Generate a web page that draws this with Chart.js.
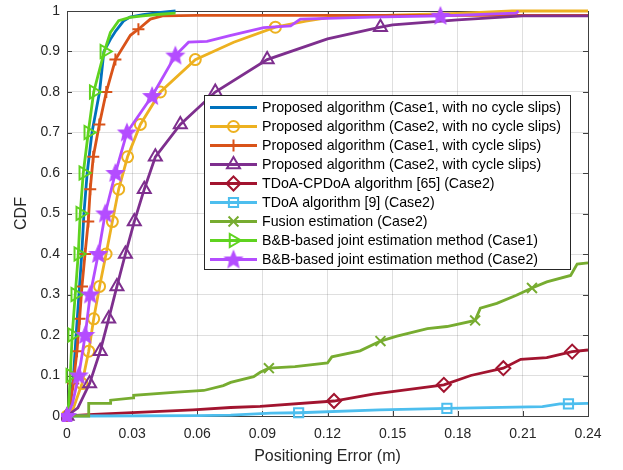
<!DOCTYPE html>
<html>
<head>
<meta charset="utf-8">
<script src="https://cdn.jsdelivr.net/npm/chart.js@4/dist/chart.umd.min.js"></script>
<style>
html,body{margin:0;padding:0;background:#fff;}
#wrap{width:623px;height:470px;position:relative;}
</style>
</head>
<body>
<div id="wrap"><canvas id="c" width="623" height="470"></canvas></div>
<script>
// ---------- data ----------
const xTickValues = [0, 0.03, 0.06, 0.09, 0.12, 0.15, 0.18, 0.21, 0.24];
const xTickLabels = ['0', '0.03', '0.06', '0.09', '0.12', '0.15', '0.18', '0.21', '0.24'];
const yTickValues = [0, 0.1, 0.2, 0.3, 0.4, 0.5, 0.6, 0.7, 0.8, 0.9, 1];
const yTickLabels = ['0', '0.1', '0.2', '0.3', '0.4', '0.5', '0.6', '0.7', '0.8', '0.9', '1'];

const seriesNames = [
  'Proposed algorithm (Case1, with no cycle slips)',
  'Proposed algorithm (Case2, with no cycle slips)',
  'Proposed algorithm (Case1, with cycle slips)',
  'Proposed algorithm (Case2, with cycle slips)',
  'TDoA-CPDoA algorithm [65] (Case2)',
  'TDoA algorithm [9] (Case2)',
  'Fusion estimation (Case2)',
  'B&B-based joint estimation method (Case1)',
  'B&B-based joint estimation method (Case2)'
];

// Proposed Case1, no slips
const p1X = [0, 0.0015, 0.0030, 0.0042, 0.0055, 0.0068, 0.0078, 0.0093, 0.0115, 0.0150, 0.0170, 0.0200, 0.0225, 0.0260, 0.0290, 0.0350, 0.0420, 0.0500];
const p1Y = [0, 0.03, 0.1, 0.2, 0.3, 0.4, 0.5, 0.6, 0.7, 0.8, 0.9, 0.93, 0.951, 0.975, 0.985, 0.991, 0.996, 1.0];
const p1Marks = [];

// Proposed Case2, no slips
const p2X = [0, 0.0030, 0.0069, 0.0100, 0.0123, 0.0150, 0.0180, 0.0209, 0.0238, 0.0279, 0.0338, 0.0430, 0.0591, 0.0768, 0.0960, 0.1100, 0.1210, 0.1500, 0.1800, 0.2050, 0.2400];
const p2Y = [0, 0.02, 0.08, 0.16, 0.24, 0.32, 0.40, 0.48, 0.56, 0.64, 0.72, 0.80, 0.88, 0.923, 0.96, 0.975, 0.984, 0.99, 0.994, 1.0, 1.0];
const p2Marks = [0, 2, 3, 4, 5, 6, 7, 8, 9, 10, 11, 12, 14];

// Proposed Case1, with slips
const p3X = [0, 0.0015, 0.0029, 0.0046, 0.0058, 0.0069, 0.0083, 0.0098, 0.0107, 0.0121, 0.0149, 0.0181, 0.0223, 0.0292, 0.0329, 0.0384, 0.0440, 0.0600, 0.1000, 0.1500, 0.2000, 0.2400];
const p3Y = [0, 0.03, 0.08, 0.16, 0.24, 0.32, 0.40, 0.48, 0.56, 0.64, 0.72, 0.80, 0.88, 0.94, 0.955, 0.98, 0.988, 0.989, 0.989, 0.989, 0.989, 0.989];
const p3Marks = [0, 2, 3, 4, 5, 6, 7, 8, 9, 10, 11, 12, 14];

// Proposed Case2, with slips
const p4X = [0, 0.0050, 0.0104, 0.0153, 0.0192, 0.0230, 0.0269, 0.0310, 0.0356, 0.0407, 0.0522, 0.0683, 0.0922, 0.1200, 0.1444, 0.1500, 0.1800, 0.2100, 0.2400];
const p4Y = [0, 0.02, 0.08, 0.16, 0.24, 0.32, 0.40, 0.48, 0.56, 0.64, 0.72, 0.80, 0.88, 0.931, 0.96, 0.966, 0.978, 0.988, 0.988];
const p4Marks = [0, 2, 3, 4, 5, 6, 7, 8, 9, 10, 11, 12, 14];

// TDoA-CPDoA
const p5X = [0, 0.0123, 0.0580, 0.0754, 0.0890, 0.1230, 0.1410, 0.1736, 0.1860, 0.2010, 0.2090, 0.2210, 0.2327, 0.2400];
const p5Y = [0, 0.004, 0.015, 0.021, 0.024, 0.037, 0.054, 0.077, 0.100, 0.118, 0.140, 0.144, 0.159, 0.163];
const p5Marks = [5, 7, 9, 12];

// TDoA
const p6X = [0, 0.0100, 0.0600, 0.0754, 0.0940, 0.1067, 0.1440, 0.1750, 0.2190, 0.2270, 0.2310, 0.2400];
const p6Y = [0, 0, 0.001, 0.002, 0.007, 0.008, 0.015, 0.019, 0.023, 0.030, 0.030, 0.031];
const p6Marks = [5, 7, 10];

// Fusion estimation
const p7X = [0, 0.0099, 0.0100, 0.0200, 0.0201, 0.0306, 0.0307, 0.0507, 0.0630, 0.0720, 0.0754, 0.0860, 0.0890, 0.0930, 0.1050, 0.1200, 0.1220, 0.1350, 0.1444, 0.1520, 0.1660, 0.1750, 0.1880, 0.1904, 0.1980, 0.2070, 0.2142, 0.2210, 0.2320, 0.2350, 0.2400];
const p7Y = [0, 0, 0.031, 0.031, 0.039, 0.045, 0.051, 0.059, 0.063, 0.075, 0.083, 0.097, 0.108, 0.118, 0.122, 0.131, 0.146, 0.161, 0.185, 0.197, 0.216, 0.221, 0.236, 0.266, 0.278, 0.298, 0.316, 0.331, 0.347, 0.375, 0.378];
const p7Marks = [13, 18, 22, 26];

// B&B Case1
const p8X = [0, 0.0008, 0.0015, 0.0024, 0.0038, 0.0052, 0.0061, 0.0075, 0.0098, 0.0123, 0.0172, 0.0200, 0.0238, 0.0290, 0.0350, 0.0430, 0.0500];
const p8Y = [0, 0.03, 0.1, 0.2, 0.3, 0.4, 0.5, 0.6, 0.7, 0.8, 0.9, 0.947, 0.976, 0.984, 0.988, 0.992, 0.995];
const p8Marks = [2, 3, 4, 5, 6, 7, 8, 9, 10];

// B&B Case2
const p9X = [0, 0.0025, 0.0054, 0.0084, 0.0107, 0.0144, 0.0176, 0.0223, 0.0276, 0.0392, 0.0499, 0.0560, 0.0645, 0.0750, 0.0906, 0.1030, 0.1075, 0.1400, 0.1720, 0.2070, 0.2080];
const p9Y = [0, 0.03, 0.1, 0.2, 0.3, 0.4, 0.5, 0.6, 0.7, 0.79, 0.89, 0.923, 0.925, 0.939, 0.959, 0.963, 0.98, 0.985, 0.988, 0.995, 1.0];
const p9Marks = [0, 2, 3, 4, 5, 6, 7, 8, 9, 10, 18];

// ---------- styling ----------
function makeStar(color, r) {
  const s = Math.ceil(2 * r + 4);
  const c = document.createElement('canvas');
  c.width = s; c.height = s;
  const g = c.getContext('2d');
  g.beginPath();
  for (let i = 0; i < 10; i++) {
    const a = -Math.PI / 2 + i * Math.PI / 5;
    const rr = (i % 2) ? r * 0.45 : r;
    const px = s / 2 + rr * Math.cos(a), py = s / 2 + 0.5 + rr * Math.sin(a);
    if (i === 0) g.moveTo(px, py); else g.lineTo(px, py);
  }
  g.closePath();
  g.fillStyle = color; g.strokeStyle = color; g.lineWidth = 1.2;
  g.fill(); g.stroke();
  return c;
}

const starImg = makeStar('#B44DFF', 9);

const styles = [
  { color: '#0072BD', shape: 'circle', r: 0, rot: 0 },
  { color: '#EDB120', shape: 'circle', r: 5.5, rot: 0 },
  { color: '#D95319', shape: 'cross', r: 6, rot: 0 },
  { color: '#7E2F8E', shape: 'triangle', r: 7.5, rot: 0 },
  { color: '#A2142F', shape: 'rectRot', r: 7, rot: 0 },
  { color: '#4DBEEE', shape: 'rect', r: 6.5, rot: 0 },
  { color: '#77AC30', shape: 'crossRot', r: 7, rot: 0 },
  { color: '#5FD31F', shape: 'triangle', r: 7.5, rot: 90 },
  { color: '#B44DFF', shape: starImg, r: 9, rot: 0 }
];

const allX = [p1X, p2X, p3X, p4X, p5X, p6X, p7X, p8X, p9X];
const allY = [p1Y, p2Y, p3Y, p4Y, p5Y, p6Y, p7Y, p8Y, p9Y];
const allMarks = [p1Marks, p2Marks, p3Marks, p4Marks, p5Marks, p6Marks, p7Marks, p8Marks, p9Marks];

const datasets = seriesNames.map((name, i) => {
  const st = styles[i];
  const marks = allMarks[i];
  return {
    label: name,
    data: allX[i].map((x, j) => ({ x: x, y: allY[i][j] })),
    showLine: true,
    borderColor: st.color,
    borderWidth: 2.8,
    tension: 0,
    pointStyle: st.shape,
    rotation: st.rot,
    pointBorderColor: st.color,
    pointBackgroundColor: 'rgba(0,0,0,0)',
    pointBorderWidth: 2,
    pointRadius: (ctx) => marks.includes(ctx.dataIndex) ? st.r : 0,
    pointHoverRadius: (ctx) => marks.includes(ctx.dataIndex) ? st.r : 0,
    order: 9 - i,
    clip: 6
  };
});

const FONT = '"Liberation Sans", Arial, Helvetica, sans-serif';
const AXIS_COLOR = '#262626';

function drawMarker(ctx, st, x, y) {
  const r = st.r;
  if (r <= 0) return;
  ctx.save();
  ctx.strokeStyle = st.color;
  ctx.fillStyle = st.color;
  ctx.lineWidth = 2;
  ctx.translate(x, y);
  if (typeof st.shape !== 'string') {
    ctx.drawImage(st.shape, -st.shape.width / 2, -st.shape.height / 2);
    ctx.restore();
    return;
  }
  ctx.rotate(st.rot * Math.PI / 180);
  ctx.beginPath();
  switch (st.shape) {
    case 'circle':
      ctx.arc(0, 0, r, 0, Math.PI * 2); break;
    case 'cross':
      ctx.moveTo(-r, 0); ctx.lineTo(r, 0); ctx.moveTo(0, -r); ctx.lineTo(0, r); break;
    case 'crossRot': {
      const d = r * Math.SQRT1_2;
      ctx.moveTo(-d, -d); ctx.lineTo(d, d); ctx.moveTo(-d, d); ctx.lineTo(d, -d); break;
    }
    case 'triangle':
      ctx.moveTo(0, -r);
      ctx.lineTo(r * Math.cos(Math.PI / 6), r * Math.sin(Math.PI / 6));
      ctx.lineTo(-r * Math.cos(Math.PI / 6), r * Math.sin(Math.PI / 6));
      ctx.closePath(); break;
    case 'rectRot':
      ctx.moveTo(0, -r); ctx.lineTo(r, 0); ctx.lineTo(0, r); ctx.lineTo(-r, 0); ctx.closePath(); break;
    case 'rect': {
      const d = r * Math.SQRT1_2;
      ctx.rect(-d, -d, 2 * d, 2 * d); break;
    }
  }
  ctx.stroke();
  ctx.restore();
}

const framePlugin = {
  id: 'frame',
  beforeDatasetsDraw(chart) {
    const ctx = chart.ctx, a = chart.chartArea;
    const xs = chart.scales.x, ys = chart.scales.y;
    ctx.save();
    ctx.strokeStyle = '#404040';
    ctx.lineWidth = 1;
    ctx.beginPath();
    const tl = 5;
    xTickValues.forEach(v => {
      const px = Math.round(xs.getPixelForValue(v)) + 0.5;
      ctx.moveTo(px, a.bottom); ctx.lineTo(px, a.bottom - tl);
      ctx.moveTo(px, a.top); ctx.lineTo(px, a.top + tl);
    });
    yTickValues.forEach(v => {
      const py = Math.round(ys.getPixelForValue(v)) + 0.5;
      ctx.moveTo(a.left, py); ctx.lineTo(a.left + tl, py);
      ctx.moveTo(a.right, py); ctx.lineTo(a.right - tl, py);
    });
    ctx.stroke();
    ctx.strokeRect(Math.round(a.left) + 0.5, Math.round(a.top) + 0.5, Math.round(a.right - a.left), Math.round(a.bottom - a.top));
    ctx.restore();
  },
  afterDraw(chart) {
    const ctx = chart.ctx, a = chart.chartArea;
    ctx.save();
    // axis titles
    ctx.fillStyle = AXIS_COLOR;
    ctx.font = '16px ' + FONT;
    ctx.textAlign = 'center';
    ctx.textBaseline = 'middle';
    ctx.fillText('Positioning Error (m)', (a.left + a.right) / 2, 457);
    ctx.save();
    ctx.translate(22, (a.top + a.bottom) / 2);
    ctx.rotate(-Math.PI / 2);
    ctx.fillText('CDF', 0, 0);
    ctx.restore();

    // legend
    const bx = 204.5, by = 95.5, bw = 366, bh = 174;
    ctx.fillStyle = '#ffffff';
    ctx.fillRect(bx, by, bw, bh);
    ctx.strokeStyle = '#262626';
    ctx.lineWidth = 1;
    ctx.strokeRect(bx, by, bw, bh);
    ctx.font = '14.2px ' + FONT;
    ctx.textAlign = 'left';
    ctx.textBaseline = 'middle';
    seriesNames.forEach((name, i) => {
      const st = styles[i];
      const yy = 107.5 + i * 19;
      ctx.strokeStyle = st.color;
      ctx.lineWidth = 2.8;
      ctx.beginPath();
      ctx.moveTo(210, yy); ctx.lineTo(257, yy);
      ctx.stroke();
      drawMarker(ctx, st, 233.5, yy);
      ctx.fillStyle = '#000000';
      ctx.fillText(name, 262, yy + 0.5);
    });
    ctx.restore();
  }
};

new Chart(document.getElementById('c'), {
  type: 'scatter',
  data: { datasets: datasets },
  options: {
    responsive: false,
    animation: false,
    events: [],
    layout: { padding: { left: 0, top: 6, right: 35, bottom: 0 } },
    plugins: { legend: { display: false }, tooltip: { enabled: false } },
    scales: {
      x: {
        type: 'linear', min: 0, max: 0.24,
        afterBuildTicks: (s) => { s.ticks = xTickValues.map(v => ({ value: v })); },
        afterFit: (s) => { s.height = 54; s.paddingLeft = 0; s.paddingRight = 0; },
        ticks: {
          callback: (v, i) => xTickLabels[i],
          color: AXIS_COLOR, font: { family: FONT, size: 14 }, padding: 10, maxRotation: 0, autoSkip: false
        },
        grid: { color: 'rgba(38,38,38,0.15)', drawTicks: false, lineWidth: 1 },
        border: { display: false }
      },
      y: {
        type: 'linear', min: 0, max: 1,
        afterBuildTicks: (s) => { s.ticks = yTickValues.map(v => ({ value: v })); },
        afterFit: (s) => { s.width = 67; s.paddingTop = 0; s.paddingBottom = 0; },
        ticks: {
          callback: (v, i) => yTickLabels[i],
          color: AXIS_COLOR, font: { family: FONT, size: 14 }, padding: 7, autoSkip: false
        },
        grid: { color: 'rgba(38,38,38,0.15)', drawTicks: false, lineWidth: 1 },
        border: { display: false }
      }
    }
  },
  plugins: [framePlugin]
});
</script>
</body>
</html>
